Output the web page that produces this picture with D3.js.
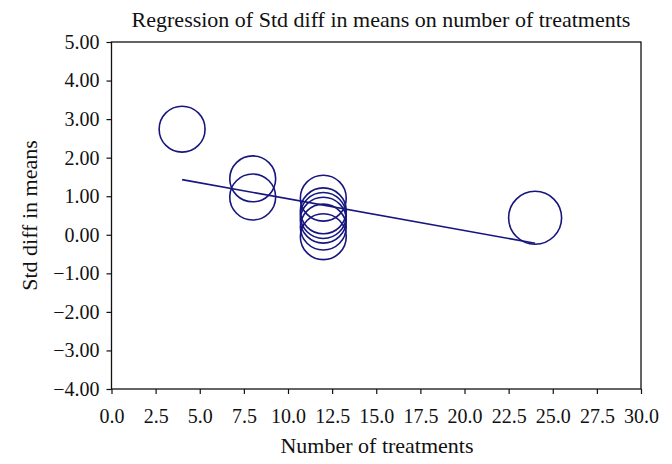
<!DOCTYPE html>
<html>
<head>
<meta charset="utf-8">
<script src="https://cdn.jsdelivr.net/npm/d3@7/dist/d3.min.js"></script>
<style>
  html, body { margin: 0; padding: 0; background: #fff; }
  svg { display: block; }
  text { font-family: "Liberation Serif", "DejaVu Serif", serif; fill: #111; }
</style>
</head>
<body>
<svg id="chart" width="672" height="464"></svg>
<script>
// Data
const treatments = [4, 8, 8, 12, 12, 12, 12, 12, 12, 24];
const stdDiff    = [2.74, 1.45, 0.98, 0.95, 0.62, 0.50, 0.38, 0.20, -0.05, 0.44];
const weights    = [0.75, 0.75, 0.75, 0.75, 0.75, 0.75, 0.75, 0.75, 0.75, 1.0];
const regLineX   = [4, 24];
const regLineY   = [1.43, -0.22];
const xTicks     = [0, 2.5, 5, 7.5, 10, 12.5, 15, 17.5, 20, 22.5, 25, 27.5, 30];
const yTicks     = [-4, -3, -2, -1, 0, 1, 2, 3, 4, 5];
const titleText  = "Regression of Std diff in means on number of treatments";
const xLabel     = "Number of treatments";
const yLabel     = "Std diff in means";

const svg = d3.select("#chart");
const margin = { left: 111.5, right: 31, top: 42, bottom: 75 };
const W = 672, H = 464;
const x = d3.scaleLinear().domain([0, 30]).range([margin.left, W - margin.right]);
const y = d3.scaleLinear().domain([-4, 5]).range([H - margin.bottom, margin.top]);
const r = d3.scaleSqrt().domain([0, 1]).range([0, 26.5]);
const color = "#16167e";

// frame
svg.append("rect")
  .attr("x", x(0)).attr("y", y(5))
  .attr("width", x(30) - x(0)).attr("height", y(-4) - y(5))
  .attr("fill", "none").attr("stroke", "#111").attr("stroke-width", 1.3);

// axes
const xAxis = svg.append("g")
  .attr("transform", `translate(0,${y(-4)})`)
  .call(d3.axisBottom(x).tickValues(xTicks).tickFormat(d3.format(".1f")).tickSize(5).tickPadding(15));
const yAxis = svg.append("g")
  .attr("transform", `translate(${x(0)},0)`)
  .call(d3.axisLeft(y).tickValues(yTicks).tickFormat(d => d3.format(".2f")(d).replace("-", "\u2212\u2009")).tickSize(5).tickPadding(7));
[xAxis, yAxis].forEach(g => {
  g.select(".domain").remove();
  g.selectAll("line").attr("stroke", "#111").attr("stroke-width", 1.2);
  g.selectAll("text").style("font-family", '"Liberation Serif", serif').style("font-size", "20px").attr("fill", "#111");
});

// regression line
svg.append("line")
  .attr("x1", x(regLineX[0])).attr("y1", y(regLineY[0]))
  .attr("x2", x(regLineX[1])).attr("y2", y(regLineY[1]))
  .attr("stroke", color).attr("stroke-width", 1.6);

// bubbles
svg.append("g").selectAll("circle")
  .data(treatments.map((t, i) => ({ t, v: stdDiff[i], w: weights[i] })))
  .join("circle")
  .attr("cx", d => x(d.t)).attr("cy", d => y(d.v)).attr("r", d => r(d.w))
  .attr("fill", "none").attr("stroke", color).attr("stroke-width", 1.6);

// titles
svg.append("text").attr("x", 381).attr("y", 27).attr("text-anchor", "middle")
  .style("font-size", "22px").text(titleText);
svg.append("text").attr("x", 377).attr("y", 453).attr("text-anchor", "middle")
  .style("font-size", "22px").text(xLabel);
svg.append("text").attr("transform", `translate(37,${(y(5) + y(-4)) / 2}) rotate(-90)`)
  .attr("text-anchor", "middle").style("font-size", "22px").text(yLabel);
</script>
</body>
</html>
